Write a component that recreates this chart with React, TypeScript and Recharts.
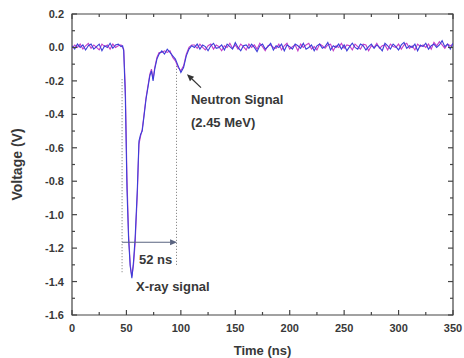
import { LineChart, Line, XAxis, YAxis, ReferenceLine, ReferenceDot, ReferenceArea } from "recharts";

// time axis (ns)
const times = [
  0, 2.5, 5, 7.5, 10, 12.5, 15, 17.5, 20, 22.5, 25, 27.5, 30, 32.5, 35, 37.5, 40, 42.5, 45,
  46.5, 47.5, 49, 50.5, 52, 53.5, 55, 56.5, 58, 60, 61.5, 63, 64.5, 66, 68, 70, 71.5, 73, 74.5, 76, 78, 80,
  82.5, 85, 87.5, 90, 92.5, 95, 97.5, 100, 102.5, 105, 107.5, 110,
  112.5, 115, 117.5, 120, 122.5, 125, 127.5, 130, 132.5, 135,
  137.5, 140, 142.5, 145, 147.5, 150, 152.5, 155, 157.5, 160,
  162.5, 165, 167.5, 170, 172.5, 175, 177.5, 180, 182.5, 185,
  187.5, 190, 192.5, 195, 197.5, 200, 202.5, 205, 207.5, 210,
  212.5, 215, 217.5, 220, 222.5, 225, 227.5, 230, 232.5, 235,
  237.5, 240, 242.5, 245, 247.5, 250, 252.5, 255, 257.5, 260,
  262.5, 265, 267.5, 270, 272.5, 275, 277.5, 280, 282.5, 285,
  287.5, 290, 292.5, 295, 297.5, 300, 302.5, 305, 307.5, 310,
  312.5, 315, 317.5, 320, 322.5, 325, 327.5, 330, 332.5, 335,
  337.5, 340, 342.5, 345, 347.5, 350,
];

// blue trace (V)
const blueTrace = [
  0.01, -0.01, 0.02, 0.0, 0.015, -0.015, 0.01, 0.02, -0.01, 0.005, 0.02, -0.02, 0.01, 0.0, 0.025, -0.005, 0.015, 0.02, 0.005,
  0.01, -0.02, -0.3, -0.85, -1.15, -1.31, -1.38, -1.28, -1.14, -0.85, -0.56, -0.52, -0.5, -0.42, -0.31, -0.23, -0.17, -0.14, -0.2, -0.13, -0.07, -0.04,
  -0.02, -0.04, -0.01, -0.03, -0.05, -0.07, -0.11, -0.15, -0.12, -0.05, -0.01, 0.01,
  0.0, 0.02, -0.01, 0.015, 0.005, -0.02, 0.01, 0.025, -0.005, 0.0,
  0.015, -0.015, 0.02, 0.005, -0.01, 0.03, 0.0, -0.02, 0.01, 0.015,
  -0.005, 0.02, 0.0, -0.025, 0.01, 0.02, -0.01, 0.005, 0.025, -0.015,
  0.01, 0.0, 0.02, -0.02, 0.015, 0.005, -0.01, 0.02, 0.01, -0.005,
  0.025, -0.01, 0.0, 0.015, -0.02, 0.01, 0.02, -0.005, 0.005, 0.03,
  -0.015, 0.01, 0.0, 0.02, -0.01, 0.015, -0.02, 0.005, 0.025, 0.0,
  -0.01, 0.02, 0.01, -0.015, 0.005, 0.02, -0.005, 0.015, 0.0, -0.02,
  0.025, 0.01, -0.01, 0.02, 0.005, -0.015, 0.015, 0.03, -0.005, 0.01,
  0.0, 0.02, -0.02, 0.015, 0.005, 0.025, -0.01, 0.01, 0.02, 0.0,
  0.015, 0.04, 0.005, 0.02, -0.01, 0.025,
];

// magenta trace (V)
const magentaTrace = [
  -0.005, 0.015, 0.0, 0.02, -0.01, 0.01, 0.025, -0.005, 0.015, 0.0, -0.015, 0.02, 0.005, 0.015, -0.01, 0.02, 0.0, 0.01, 0.015,
  0.0, -0.01, -0.24, -0.78, -1.12, -1.3, -1.37, -1.3, -1.17, -0.88, -0.58, -0.53, -0.49, -0.41, -0.3, -0.22, -0.16, -0.13, -0.19, -0.12, -0.06, -0.03,
  -0.03, -0.02, -0.03, -0.02, -0.06, -0.08, -0.12, -0.14, -0.11, -0.04, 0.0, 0.015,
  0.015, -0.005, 0.02, 0.0, -0.015, 0.01, 0.02, -0.01, 0.015, 0.005,
  -0.02, 0.01, 0.0, 0.025, -0.005, 0.015, -0.01, 0.02, 0.005, -0.015,
  0.02, 0.0, 0.015, -0.01, 0.025, 0.005, -0.02, 0.01, 0.015, 0.0,
  -0.005, 0.02, -0.015, 0.01, 0.025, -0.01, 0.005, 0.015, -0.02, 0.02,
  0.0, 0.015, 0.025, -0.01, 0.005, -0.015, 0.02, 0.01, -0.005, 0.015,
  0.02, -0.02, 0.01, 0.0, 0.025, -0.005, 0.015, 0.01, -0.015, 0.02,
  0.005, -0.01, 0.02, 0.015, -0.02, 0.01, 0.0, 0.025, -0.005, 0.01,
  0.015, -0.015, 0.02, 0.005, 0.0, 0.02, -0.01, 0.015, 0.025, -0.005,
  0.01, -0.015, 0.02, 0.005, 0.015, 0.0, 0.02, -0.01, 0.03, 0.01,
  0.035, 0.015, -0.005, 0.02, 0.01, 0.02,
];

const xTicks = [0, 25, 50, 75, 100, 125, 150, 175, 200, 225, 250, 275, 300, 325, 350];
const yTicks = [-1.6, -1.5, -1.4, -1.3, -1.2, -1.1, -1.0, -0.9, -0.8, -0.7, -0.6, -0.5, -0.4, -0.3, -0.2, -0.1, 0, 0.1, 0.2];

const data = times.map((t, i) => ({ t, blue: blueTrace[i], magenta: magentaTrace[i] }));

const W = 464;
const H = 358;
const margin = { top: 14, right: 11, bottom: 0, left: 10 };
const font = "'Liberation Sans', Arial, sans-serif";
const axisColor = "#444";
const textColor = "#383838";

// bottom axis tick, mirrored onto the top edge of the frame
const XTick = (props: any) => {
  const { x, y, payload } = props;
  const v = payload.value;
  const major = v % 50 === 0;
  const len = major ? 5 : 3;
  const top = margin.top;
  return (
    <g>
      <line x1={x} y1={y} x2={x} y2={y - len} stroke={axisColor} strokeWidth={1.2} />
      <line x1={x} y1={top} x2={x} y2={top + len} stroke={axisColor} strokeWidth={1.2} />
      {major && (
        <text x={x} y={y + 17} textAnchor="middle" fontFamily={font} fontWeight="bold" fontSize={11} fill={textColor}>
          {v}
        </text>
      )}
    </g>
  );
};

// left axis tick, mirrored onto the right edge of the frame
const YTick = (props: any) => {
  const { x, y, payload } = props;
  const v = payload.value;
  const major = Math.round(v * 10) % 2 === 0;
  const len = major ? 5 : 3;
  const right = W - margin.right;
  return (
    <g>
      <line x1={x} y1={y} x2={x + len} y2={y} stroke={axisColor} strokeWidth={1.2} />
      <line x1={right} y1={y} x2={right - len} y2={y} stroke={axisColor} strokeWidth={1.2} />
      {major && (
        <text x={x - 8} y={y + 4} textAnchor="end" fontFamily={font} fontWeight="bold" fontSize={11} fill={textColor}>
          {v.toFixed(1)}
        </text>
      )}
    </g>
  );
};

const Arrow = (p: any) => {
  const { x1, y1, x2, y2, color } = p;
  const ang = Math.atan2(y2 - y1, x2 - x1);
  const L = 7;
  const hw = 3;
  const bx = x2 - L * Math.cos(ang);
  const by = y2 - L * Math.sin(ang);
  const px = -Math.sin(ang) * hw;
  const py = Math.cos(ang) * hw;
  return (
    <g>
      <line x1={x1} y1={y1} x2={bx} y2={by} stroke={color} strokeWidth={1.2} />
      <polygon points={`${x2},${y2} ${bx + px},${by + py} ${bx - px},${by - py}`} fill={color} />
    </g>
  );
};

const note = (text: string) => (p: any) => (
  <text x={p.cx} y={p.cy} fontFamily={font} fontWeight="bold" fontSize={13} fill={textColor}>
    {text}
  </text>
);

export default function App() {
  return (
    <div style={{ position: "absolute", left: 0, top: 0, width: W, height: H, background: "#fff" }}>
      <LineChart width={W} height={H} data={data} margin={margin}>
        <XAxis
          dataKey="t"
          type="number"
          domain={[0, 350]}
          ticks={xTicks}
          interval={0}
          allowDataOverflow
          height={43}
          tickSize={0}
          tickMargin={0}
          tickLine={false}
          axisLine={false}
          tick={(p: any) => <XTick {...p} />}
          label={{ value: "Time (ns)", position: "insideBottom", offset: 3, fontFamily: font, fontWeight: "bold", fontSize: 13, fill: textColor }}
        />
        <YAxis
          type="number"
          domain={[-1.6, 0.2]}
          ticks={yTicks}
          interval={0}
          allowDataOverflow
          width={62}
          tickSize={0}
          tickMargin={0}
          tickLine={false}
          axisLine={false}
          tick={(p: any) => <YTick {...p} />}
          label={{
            content: (lp: any) => {
              const vb = lp.viewBox;
              const cx = vb.x + 7;
              const cy = vb.y + vb.height / 2;
              return (
                <text
                  x={cx}
                  y={cy}
                  transform={`rotate(-90 ${cx} ${cy})`}
                  textAnchor="middle"
                  dominantBaseline="central"
                  fontFamily={font}
                  fontWeight="bold"
                  fontSize={14}
                  fill={textColor}
                >
                  Voltage (V)
                </text>
              );
            },
          }}
        />

        <ReferenceArea x1={0} x2={350} y1={-1.6} y2={0.2} fill="none" stroke={axisColor} strokeWidth={1.2} fillOpacity={0} />

        <ReferenceLine segment={[{ x: 46, y: -0.19 }, { x: 46, y: -1.35 }]} stroke="#777" strokeWidth={1} strokeDasharray="1 2" />
        <ReferenceLine segment={[{ x: 96, y: -0.11 }, { x: 96, y: -1.3 }]} stroke="#777" strokeWidth={1} strokeDasharray="1 2" />

        <Line type="linear" dataKey="magenta" stroke="#c23ec8" strokeWidth={1.1} dot={false} isAnimationActive={false} />
        <Line type="linear" dataKey="blue" stroke="#3c3ed8" strokeWidth={1.1} dot={false} isAnimationActive={false} />

        <ReferenceLine
          segment={[{ x: 46, y: -1.165 }, { x: 96.5, y: -1.165 }]}
          shape={(p: any) => <Arrow {...p} color="#5a6480" />}
        />
        <ReferenceLine
          segment={[{ x: 118.5, y: -0.24 }, { x: 105.6, y: -0.16 }]}
          shape={(p: any) => <Arrow {...p} color="#333" />}
        />

        <ReferenceDot x={109.3} y={-0.339} r={0} shape={note("Neutron Signal")} />
        <ReferenceDot x={109.3} y={-0.476} r={0} shape={note("(2.45 MeV)")} />
        <ReferenceDot x={61.5} y={-1.298} r={0} shape={note("52 ns")} />
        <ReferenceDot x={58.8} y={-1.458} r={0} shape={note("X-ray signal")} />
      </LineChart>
    </div>
  );
}
